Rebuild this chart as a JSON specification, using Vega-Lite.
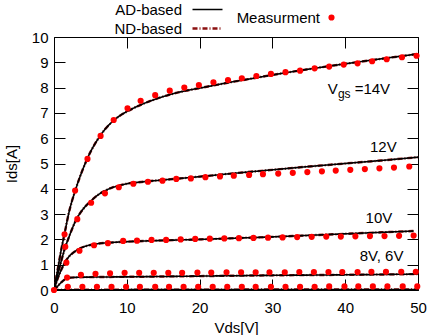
{
  "$schema": "https://vega.github.io/schema/vega-lite/v6.json",
  "width": 364,
  "height": 253,
  "autosize": {"type": "none"},
  "padding": {"left": 54, "top": 37, "right": 9, "bottom": 45},
  "config": {
    "font": "Liberation Sans",
    "view": {"stroke": "black", "strokeWidth": 1},
    "axis": {
      "grid": false,
      "domain": false,
      "ticks": true,
      "tickColor": "#000000",
      "tickSize": 11,
      "tickWidth": 1,
      "tickOpacity": 1,
      "labelColor": "black",
      "labelFont": "Liberation Sans",
      "titleFont": "Liberation Sans",
      "labelFontSize": 15,
      "titleFontSize": 15,
      "titleFontWeight": "normal",
      "titleColor": "black",
      "labelFlush": false
    },
    "legend": {
      "labelFont": "Liberation Sans",
      "labelFontSize": 15,
      "labelColor": "black",
      "padding": 0,
      "offset": 0
    },
    "text": {"font": "Liberation Sans"}
  },
  "datasets": {
    "curves": [
      {"m":"ND-based","v":"14","x":0,"y":0},{"m":"ND-based","v":"14","x":0.5,"y":0.8},{"m":"ND-based","v":"14","x":1,"y":1.6},{"m":"ND-based","v":"14","x":1.5,"y":2.3},{"m":"ND-based","v":"14","x":2,"y":3.0},{"m":"ND-based","v":"14","x":3,"y":4.0},{"m":"ND-based","v":"14","x":4,"y":4.8},{"m":"ND-based","v":"14","x":5,"y":5.45},{"m":"ND-based","v":"14","x":6,"y":5.95},{"m":"ND-based","v":"14","x":7,"y":6.35},{"m":"ND-based","v":"14","x":8,"y":6.65},{"m":"ND-based","v":"14","x":9,"y":6.88},{"m":"ND-based","v":"14","x":10,"y":7.05},{"m":"ND-based","v":"14","x":12,"y":7.33},{"m":"ND-based","v":"14","x":14,"y":7.55},{"m":"ND-based","v":"14","x":16,"y":7.73},{"m":"ND-based","v":"14","x":18,"y":7.87},{"m":"ND-based","v":"14","x":20,"y":7.98},{"m":"ND-based","v":"14","x":22,"y":8.09},{"m":"ND-based","v":"14","x":24,"y":8.2},{"m":"ND-based","v":"14","x":26,"y":8.3},{"m":"ND-based","v":"14","x":28,"y":8.4},{"m":"ND-based","v":"14","x":30,"y":8.5},{"m":"ND-based","v":"14","x":35,"y":8.73},{"m":"ND-based","v":"14","x":40,"y":8.94},{"m":"ND-based","v":"14","x":45,"y":9.14},{"m":"ND-based","v":"14","x":50,"y":9.33},
      {"m":"ND-based","v":"12","x":0,"y":0},{"m":"ND-based","v":"12","x":0.5,"y":0.6},{"m":"ND-based","v":"12","x":1,"y":1.15},{"m":"ND-based","v":"12","x":1.5,"y":1.65},{"m":"ND-based","v":"12","x":2,"y":2.05},{"m":"ND-based","v":"12","x":3,"y":2.75},{"m":"ND-based","v":"12","x":4,"y":3.2},{"m":"ND-based","v":"12","x":5,"y":3.5},{"m":"ND-based","v":"12","x":6,"y":3.75},{"m":"ND-based","v":"12","x":7,"y":3.92},{"m":"ND-based","v":"12","x":8,"y":4.05},{"m":"ND-based","v":"12","x":9,"y":4.13},{"m":"ND-based","v":"12","x":10,"y":4.2},{"m":"ND-based","v":"12","x":12,"y":4.27},{"m":"ND-based","v":"12","x":15,"y":4.35},{"m":"ND-based","v":"12","x":20,"y":4.48},{"m":"ND-based","v":"12","x":25,"y":4.62},{"m":"ND-based","v":"12","x":30,"y":4.75},{"m":"ND-based","v":"12","x":35,"y":4.88},{"m":"ND-based","v":"12","x":40,"y":5.0},{"m":"ND-based","v":"12","x":45,"y":5.12},{"m":"ND-based","v":"12","x":50,"y":5.25},
      {"m":"ND-based","v":"10","x":0,"y":0},{"m":"ND-based","v":"10","x":0.5,"y":0.45},{"m":"ND-based","v":"10","x":1,"y":0.8},{"m":"ND-based","v":"10","x":1.5,"y":1.1},{"m":"ND-based","v":"10","x":2,"y":1.3},{"m":"ND-based","v":"10","x":3,"y":1.55},{"m":"ND-based","v":"10","x":4,"y":1.7},{"m":"ND-based","v":"10","x":5,"y":1.78},{"m":"ND-based","v":"10","x":6,"y":1.83},{"m":"ND-based","v":"10","x":8,"y":1.88},{"m":"ND-based","v":"10","x":10,"y":1.91},{"m":"ND-based","v":"10","x":15,"y":1.96},{"m":"ND-based","v":"10","x":20,"y":2.0},{"m":"ND-based","v":"10","x":25,"y":2.05},{"m":"ND-based","v":"10","x":30,"y":2.1},{"m":"ND-based","v":"10","x":35,"y":2.16},{"m":"ND-based","v":"10","x":40,"y":2.22},{"m":"ND-based","v":"10","x":45,"y":2.28},{"m":"ND-based","v":"10","x":49.4,"y":2.33},
      {"m":"ND-based","v":"8","x":0,"y":0},{"m":"ND-based","v":"8","x":0.5,"y":0.15},{"m":"ND-based","v":"8","x":1,"y":0.3},{"m":"ND-based","v":"8","x":1.5,"y":0.42},{"m":"ND-based","v":"8","x":2,"y":0.48},{"m":"ND-based","v":"8","x":3,"y":0.5},{"m":"ND-based","v":"8","x":5,"y":0.51},{"m":"ND-based","v":"8","x":10,"y":0.52},{"m":"ND-based","v":"8","x":20,"y":0.55},{"m":"ND-based","v":"8","x":30,"y":0.58},{"m":"ND-based","v":"8","x":40,"y":0.6},{"m":"ND-based","v":"8","x":50,"y":0.63},
      {"m":"ND-based","v":"6","x":0,"y":0},{"m":"ND-based","v":"6","x":2,"y":0.01},{"m":"ND-based","v":"6","x":50,"y":0.02},
      {"m":"AD-based","v":"14","x":0,"y":0},{"m":"AD-based","v":"14","x":0.5,"y":0.8},{"m":"AD-based","v":"14","x":1,"y":1.6},{"m":"AD-based","v":"14","x":1.5,"y":2.3},{"m":"AD-based","v":"14","x":2,"y":3.0},{"m":"AD-based","v":"14","x":3,"y":4.0},{"m":"AD-based","v":"14","x":4,"y":4.8},{"m":"AD-based","v":"14","x":5,"y":5.45},{"m":"AD-based","v":"14","x":6,"y":5.95},{"m":"AD-based","v":"14","x":7,"y":6.35},{"m":"AD-based","v":"14","x":8,"y":6.65},{"m":"AD-based","v":"14","x":9,"y":6.88},{"m":"AD-based","v":"14","x":10,"y":7.05},{"m":"AD-based","v":"14","x":12,"y":7.33},{"m":"AD-based","v":"14","x":14,"y":7.55},{"m":"AD-based","v":"14","x":16,"y":7.73},{"m":"AD-based","v":"14","x":18,"y":7.87},{"m":"AD-based","v":"14","x":20,"y":7.98},{"m":"AD-based","v":"14","x":22,"y":8.09},{"m":"AD-based","v":"14","x":24,"y":8.2},{"m":"AD-based","v":"14","x":26,"y":8.3},{"m":"AD-based","v":"14","x":28,"y":8.4},{"m":"AD-based","v":"14","x":30,"y":8.5},{"m":"AD-based","v":"14","x":35,"y":8.73},{"m":"AD-based","v":"14","x":40,"y":8.94},{"m":"AD-based","v":"14","x":45,"y":9.14},{"m":"AD-based","v":"14","x":50,"y":9.33},
      {"m":"AD-based","v":"12","x":0,"y":0},{"m":"AD-based","v":"12","x":0.5,"y":0.6},{"m":"AD-based","v":"12","x":1,"y":1.15},{"m":"AD-based","v":"12","x":1.5,"y":1.65},{"m":"AD-based","v":"12","x":2,"y":2.05},{"m":"AD-based","v":"12","x":3,"y":2.75},{"m":"AD-based","v":"12","x":4,"y":3.2},{"m":"AD-based","v":"12","x":5,"y":3.5},{"m":"AD-based","v":"12","x":6,"y":3.75},{"m":"AD-based","v":"12","x":7,"y":3.92},{"m":"AD-based","v":"12","x":8,"y":4.05},{"m":"AD-based","v":"12","x":9,"y":4.13},{"m":"AD-based","v":"12","x":10,"y":4.2},{"m":"AD-based","v":"12","x":12,"y":4.27},{"m":"AD-based","v":"12","x":15,"y":4.35},{"m":"AD-based","v":"12","x":20,"y":4.48},{"m":"AD-based","v":"12","x":25,"y":4.62},{"m":"AD-based","v":"12","x":30,"y":4.75},{"m":"AD-based","v":"12","x":35,"y":4.88},{"m":"AD-based","v":"12","x":40,"y":5.0},{"m":"AD-based","v":"12","x":45,"y":5.12},{"m":"AD-based","v":"12","x":50,"y":5.25},
      {"m":"AD-based","v":"10","x":0,"y":0},{"m":"AD-based","v":"10","x":0.5,"y":0.45},{"m":"AD-based","v":"10","x":1,"y":0.8},{"m":"AD-based","v":"10","x":1.5,"y":1.1},{"m":"AD-based","v":"10","x":2,"y":1.3},{"m":"AD-based","v":"10","x":3,"y":1.55},{"m":"AD-based","v":"10","x":4,"y":1.7},{"m":"AD-based","v":"10","x":5,"y":1.78},{"m":"AD-based","v":"10","x":6,"y":1.83},{"m":"AD-based","v":"10","x":8,"y":1.88},{"m":"AD-based","v":"10","x":10,"y":1.91},{"m":"AD-based","v":"10","x":15,"y":1.96},{"m":"AD-based","v":"10","x":20,"y":2.0},{"m":"AD-based","v":"10","x":25,"y":2.05},{"m":"AD-based","v":"10","x":30,"y":2.1},{"m":"AD-based","v":"10","x":35,"y":2.16},{"m":"AD-based","v":"10","x":40,"y":2.22},{"m":"AD-based","v":"10","x":45,"y":2.28},{"m":"AD-based","v":"10","x":49.4,"y":2.33},
      {"m":"AD-based","v":"8","x":0,"y":0},{"m":"AD-based","v":"8","x":0.5,"y":0.15},{"m":"AD-based","v":"8","x":1,"y":0.3},{"m":"AD-based","v":"8","x":1.5,"y":0.42},{"m":"AD-based","v":"8","x":2,"y":0.48},{"m":"AD-based","v":"8","x":3,"y":0.5},{"m":"AD-based","v":"8","x":5,"y":0.51},{"m":"AD-based","v":"8","x":10,"y":0.52},{"m":"AD-based","v":"8","x":20,"y":0.55},{"m":"AD-based","v":"8","x":30,"y":0.58},{"m":"AD-based","v":"8","x":40,"y":0.6},{"m":"AD-based","v":"8","x":50,"y":0.63},
      {"m":"AD-based","v":"6","x":0,"y":0},{"m":"AD-based","v":"6","x":2,"y":0.01},{"m":"AD-based","v":"6","x":50,"y":0.02}
    ],
    "meas": [
      {"v":"14","x":0,"y":0},{"v":"14","x":1.45,"y":2.2},{"v":"14","x":2.9,"y":3.93},{"v":"14","x":4.6,"y":5.18},{"v":"14","x":6.4,"y":6.09},{"v":"14","x":8.2,"y":6.72},{"v":"14","x":10.1,"y":7.18},{"v":"14","x":11.9,"y":7.48},{"v":"14","x":13.9,"y":7.7},{"v":"14","x":15.9,"y":7.88},{"v":"14","x":17.9,"y":8.0},{"v":"14","x":19.9,"y":8.1},{"v":"14","x":21.9,"y":8.21},{"v":"14","x":23.9,"y":8.3},{"v":"14","x":25.8,"y":8.37},{"v":"14","x":27.8,"y":8.46},{"v":"14","x":29.8,"y":8.54},{"v":"14","x":31.8,"y":8.61},{"v":"14","x":33.8,"y":8.67},{"v":"14","x":35.8,"y":8.76},{"v":"14","x":37.8,"y":8.83},{"v":"14","x":39.8,"y":8.91},{"v":"14","x":41.7,"y":8.96},{"v":"14","x":43.7,"y":9.04},{"v":"14","x":45.7,"y":9.12},{"v":"14","x":47.8,"y":9.2},{"v":"14","x":49.8,"y":9.26},
      {"v":"12","x":1.55,"y":1.71},{"v":"12","x":3.2,"y":2.8},{"v":"12","x":5.1,"y":3.45},{"v":"12","x":7.0,"y":3.82},{"v":"12","x":8.9,"y":4.06},{"v":"12","x":10.9,"y":4.2},{"v":"12","x":12.9,"y":4.28},{"v":"12","x":14.9,"y":4.32},{"v":"12","x":16.8,"y":4.39},{"v":"12","x":18.8,"y":4.41},{"v":"12","x":20.8,"y":4.46},{"v":"12","x":22.8,"y":4.49},{"v":"12","x":24.7,"y":4.52},{"v":"12","x":26.8,"y":4.55},{"v":"12","x":28.7,"y":4.58},{"v":"12","x":30.8,"y":4.6},{"v":"12","x":32.8,"y":4.63},{"v":"12","x":34.8,"y":4.66},{"v":"12","x":36.8,"y":4.69},{"v":"12","x":38.7,"y":4.72},{"v":"12","x":40.7,"y":4.75},{"v":"12","x":42.7,"y":4.78},{"v":"12","x":44.7,"y":4.81},{"v":"12","x":46.7,"y":4.84},{"v":"12","x":48.8,"y":4.88},
      {"v":"10","x":1.7,"y":1.08},{"v":"10","x":3.5,"y":1.55},{"v":"10","x":5.5,"y":1.77},{"v":"10","x":7.4,"y":1.85},{"v":"10","x":9.5,"y":1.94},{"v":"10","x":11.4,"y":1.95},{"v":"10","x":13.4,"y":1.98},{"v":"10","x":15.4,"y":1.98},{"v":"10","x":17.4,"y":2.0},{"v":"10","x":19.4,"y":2.02},{"v":"10","x":21.4,"y":2.03},{"v":"10","x":23.4,"y":2.04},{"v":"10","x":25.4,"y":2.05},{"v":"10","x":27.4,"y":2.06},{"v":"10","x":29.4,"y":2.07},{"v":"10","x":31.4,"y":2.08},{"v":"10","x":33.4,"y":2.09},{"v":"10","x":35.4,"y":2.1},{"v":"10","x":37.4,"y":2.11},{"v":"10","x":39.4,"y":2.11},{"v":"10","x":41.4,"y":2.12},{"v":"10","x":43.4,"y":2.13},{"v":"10","x":45.4,"y":2.13},{"v":"10","x":47.4,"y":2.14},{"v":"10","x":49.4,"y":2.15},
      {"v":"8","x":1.8,"y":0.49},{"v":"8","x":3.7,"y":0.6},{"v":"8","x":5.7,"y":0.64},{"v":"8","x":7.7,"y":0.66},{"v":"8","x":9.7,"y":0.68},{"v":"8","x":11.7,"y":0.68},{"v":"8","x":13.7,"y":0.68},{"v":"8","x":15.7,"y":0.68},{"v":"8","x":17.6,"y":0.68},{"v":"8","x":19.7,"y":0.69},{"v":"8","x":21.6,"y":0.69},{"v":"8","x":23.7,"y":0.7},{"v":"8","x":25.7,"y":0.7},{"v":"8","x":27.7,"y":0.7},{"v":"8","x":29.6,"y":0.7},{"v":"8","x":31.7,"y":0.7},{"v":"8","x":33.7,"y":0.71},{"v":"8","x":35.7,"y":0.71},{"v":"8","x":37.7,"y":0.71},{"v":"8","x":39.6,"y":0.71},{"v":"8","x":41.7,"y":0.71},{"v":"8","x":43.6,"y":0.72},{"v":"8","x":45.6,"y":0.72},{"v":"8","x":47.7,"y":0.72},{"v":"8","x":49.7,"y":0.72},
      {"v":"6","x":1.9,"y":0.13},{"v":"6","x":3.9,"y":0.13},{"v":"6","x":5.9,"y":0.13},{"v":"6","x":7.9,"y":0.13},{"v":"6","x":9.9,"y":0.13},{"v":"6","x":11.8,"y":0.13},{"v":"6","x":13.9,"y":0.13},{"v":"6","x":15.8,"y":0.13},{"v":"6","x":17.8,"y":0.13},{"v":"6","x":19.8,"y":0.13},{"v":"6","x":21.8,"y":0.13},{"v":"6","x":23.8,"y":0.13},{"v":"6","x":25.8,"y":0.13},{"v":"6","x":27.7,"y":0.13},{"v":"6","x":29.8,"y":0.13},{"v":"6","x":31.8,"y":0.13},{"v":"6","x":33.8,"y":0.13},{"v":"6","x":35.8,"y":0.13},{"v":"6","x":37.8,"y":0.14},{"v":"6","x":39.9,"y":0.14},{"v":"6","x":41.8,"y":0.14},{"v":"6","x":43.8,"y":0.14},{"v":"6","x":45.8,"y":0.14},{"v":"6","x":47.9,"y":0.14},{"v":"6","x":49.9,"y":0.14}
    ],
    "notes": [
      {"t":"V","x":37.6,"y":7.75},
      {"t":"=14V","x":41.3,"y":7.75},
      {"t":"12V","x":43.4,"y":5.44},
      {"t":"10V","x":42.8,"y":2.64},
      {"t":"8V, 6V","x":42.0,"y":1.15}
    ],
    "subs": [
      {"t":"gs","x":39.0,"y":7.6}
    ]
  },
  "layer": [
    {
      "data": {"name": "curves"},
      "mark": {"type": "line", "interpolate": "monotone", "clip": true},
      "encoding": {
        "x": {"field": "x", "type": "quantitative", "scale": {"domain": [0, 50], "nice": false},
              "axis": {"orient": "bottom", "values": [0,10,20,30,40,50], "ticks": false, "labelPadding": 10, "title": "Vds[V]", "titlePadding": 5}},
        "y": {"field": "y", "type": "quantitative", "scale": {"domain": [0, 10], "nice": false},
              "axis": {"orient": "left", "values": [0,1,2,3,4,5,6,7,8,9,10], "ticks": false, "labelPadding": 6, "title": "Ids[A]", "titlePadding": 12}},
        "detail": {"field": "v"},
        "color": {"field": "m", "type": "nominal", "scale": {"domain": ["AD-based", "ND-based"], "range": ["#000000", "#8b1010"]},
                  "legend": {"title": null, "orient": "none", "legendX": 146, "legendY": -35, "direction": "vertical", "labelAlign": "right", "labelOffset": -33, "symbolType": "M-3,0H3", "symbolSize": 100, "symbolStrokeWidth": 1.5, "rowPadding": 3}},
        "strokeDash": {"field": "m", "type": "nominal", "scale": {"domain": ["AD-based", "ND-based"], "range": [[1, 0], [5, 2, 1, 2]]},
                  "legend": {"title": null, "orient": "none", "legendX": 146, "legendY": -35, "direction": "vertical", "labelAlign": "right", "labelOffset": -33, "symbolType": "M-3,0H3", "symbolSize": 100, "symbolStrokeWidth": 1.5, "rowPadding": 3}},
        "strokeWidth": {"field": "m", "type": "nominal", "scale": {"domain": ["AD-based", "ND-based"], "range": [1.6, 2.4]}, "legend": null},
        "order": {"field": "x", "type": "quantitative"}
      }
    },
    {
      "data": {"name": "meas"},
      "mark": {"type": "circle", "size": 38, "opacity": 1, "clip": false},
      "encoding": {
        "x": {"field": "x", "type": "quantitative",
              "axis": {"orient": "top", "values": [0,10,20,30,40,50], "labels": false, "title": null, "offset": -11}},
        "y": {"field": "y", "type": "quantitative",
              "axis": {"orient": "right", "values": [0,1,2,3,4,5,6,7,8,9,10], "labels": false, "title": null, "offset": -11}},
        "fill": {"datum": "Measurment", "type": "nominal", "scale": {"domain": ["Measurment"], "range": ["#ff0000"]},
                 "legend": {"title": null, "orient": "none", "legendX": 270, "legendY": -27, "labelAlign": "right", "labelOffset": -19, "symbolType": "circle", "symbolSize": 38, "symbolStrokeWidth": 0}}
      }
    },
    {
      "data": {"name": "notes"},
      "mark": {"type": "text", "align": "left", "baseline": "alphabetic", "fontSize": 15, "color": "black", "font": "Liberation Sans"},
      "encoding": {
        "x": {"field": "x", "type": "quantitative",
              "axis": {"orient": "bottom", "values": [0,10,20,30,40,50], "labels": false, "title": null, "offset": -11}},
        "y": {"field": "y", "type": "quantitative",
              "axis": {"orient": "left", "values": [0,1,2,3,4,5,6,7,8,9,10], "labels": false, "title": null, "offset": -11}},
        "text": {"field": "t"}
      }
    },
    {
      "data": {"name": "subs"},
      "mark": {"type": "text", "align": "left", "baseline": "alphabetic", "fontSize": 12, "color": "black", "font": "Liberation Sans"},
      "encoding": {
        "x": {"field": "x", "type": "quantitative", "axis": null},
        "y": {"field": "y", "type": "quantitative", "axis": null},
        "text": {"field": "t"}
      }
    }
  ],
  "resolve": {"axis": {"x": "independent", "y": "independent"}, "legend": {"fill": "independent"}}
}
